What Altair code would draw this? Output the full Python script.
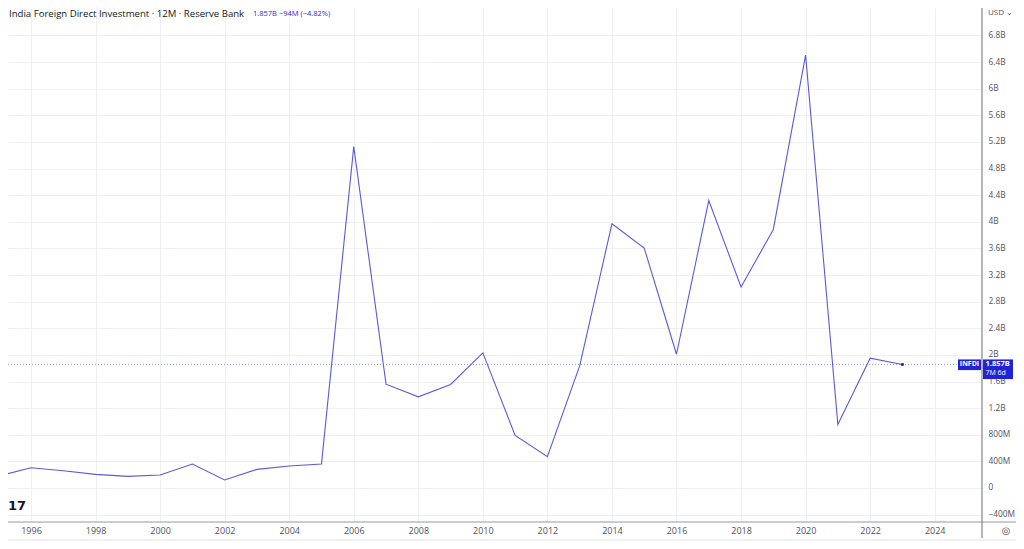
import altair as alt
import pandas as pd

years = list(range(1995, 2024))
values_b = [0.18, 0.305, 0.26, 0.205, 0.175, 0.195, 0.36, 0.12, 0.28, 0.33, 0.36,
            5.13, 1.56, 1.37, 1.555, 2.03, 0.79, 0.47, 1.835, 3.97, 3.605, 2.01,
            4.32, 3.02, 3.885, 6.505, 0.955, 1.951, 1.857]
y_ticks = [-0.4, 0.0, 0.4, 0.8, 1.2, 1.6, 2.0, 2.4, 2.8, 3.2, 3.6, 4.0, 4.4, 4.8,
           5.2, 5.6, 6.0, 6.4, 6.8]
x_ticks = list(range(1996, 2025, 2))
title_text = "India Foreign Direct Investment · 12M · Reserve Bank"
change_text = "1.857B  −94M (−4.82%)"
last_label = "1.857B"
countdown = "7M 6d"
symbol = "INFDI"

df = pd.DataFrame({"year": years, "value": values_b})
last = df.iloc[[-1]]
last_val = values_b[-1]

W, H = 974, 514
FONT = "Open Sans"
LINE = "#5b5bd6"
BOX = "#2323d6"
GRID = "#eef0f6"

xs = alt.Scale(domain=[1995.287, 2025.466], nice=False, zero=False)
ys = alt.Scale(domain=[-0.511, 7.213], nice=False, zero=False)

x_axis = alt.Axis(
    values=x_ticks, format="d", grid=True, gridColor=GRID, gridWidth=1,
    ticks=False, domain=False, labelPadding=4, labelFontSize=9,
    labelColor="#50535e", labelFont=FONT, title=None, labelFlush=False,
    labelOverlap=False)
y_axis = alt.Axis(
    orient="right", values=y_ticks, grid=True, gridColor=GRID, gridWidth=1,
    ticks=False, domain=False, labelPadding=6, labelFontSize=8.3,
    labelColor="#50535e", labelFont=FONT, labelAlign="left", title=None,
    labelOverlap=False, labelFlush=False,
    labelExpr="datum.value == 0 ? '0' : (abs(datum.value) < 1 ? format(datum.value*1000, 'd') + 'M' : format(datum.value, '.1~f') + 'B')")

x_enc = alt.X("year:Q", scale=xs, axis=x_axis)
y_enc = alt.Y("value:Q", scale=ys, axis=y_axis)

line = alt.Chart(df).mark_line(color=LINE, strokeWidth=1.1, clip=True).encode(x=x_enc, y=y_enc)

price_line = alt.Chart(last).mark_rule(color="#7a7ad8", strokeDash=[1, 2], strokeWidth=1, opacity=0.8).encode(
    y=y_enc, x=alt.value(0), x2=alt.value(W))

end_pt = alt.Chart(last).mark_point(filled=True, color="#2a2a9a", size=10, opacity=1).encode(
    x=x_enc, y=y_enc)

# axis lines
x_axis_line = alt.Chart(last).mark_rule(color="#b8bbc4", strokeWidth=1.5).encode(
    x=alt.value(0), x2=alt.value(1008), y=alt.value(H))
bottom_line = alt.Chart(last).mark_rule(color="#e4e6ec", strokeWidth=1).encode(
    x=alt.value(0), x2=alt.value(1008), y=alt.value(532))
y_axis_line = alt.Chart(last).mark_rule(color="#6a6d78", strokeWidth=1).encode(
    x=alt.value(W), y=alt.value(0), y2=alt.value(530))

# label boxes at the last value
sym_box = alt.Chart(last).mark_rect(color=BOX).encode(
    x=alt.value(950), x2=alt.value(973),
    y=alt.datum(last_val + 0.075, scale=ys, axis=y_axis), y2=alt.datum(last_val - 0.085))
val_box = alt.Chart(last).mark_rect(color=BOX).encode(
    x=alt.value(975), x2=alt.value(1005),
    y=alt.datum(last_val + 0.075, scale=ys, axis=y_axis), y2=alt.datum(last_val - 0.22))
sym_txt = alt.Chart(last).mark_text(color="white", fontSize=7, font=FONT, fontWeight="bold", align="center", baseline="middle").encode(
    x=alt.value(961.5), y=y_enc, text=alt.value(symbol))
val_txt = alt.Chart(last).mark_text(color="white", fontSize=7.5, font=FONT, fontWeight="bold", align="left", baseline="middle").encode(
    x=alt.value(977.5), y=y_enc, text=alt.value(last_label))
cd_txt = alt.Chart(last).mark_text(color="white", fontSize=7, font=FONT, align="left", baseline="middle", dy=9).encode(
    x=alt.value(977.5), y=y_enc, text=alt.value(countdown))

# header texts
title = alt.Chart(last).mark_text(color="#131722", fontSize=9.6, font=FONT, align="left", baseline="middle").encode(
    x=alt.value(1), y=alt.value(6), text=alt.value(title_text))
change = alt.Chart(last).mark_text(color="#2a2ad0", fontSize=7.5, font=FONT, align="left", baseline="middle").encode(
    x=alt.value(245), y=alt.value(6), text=alt.value(change_text))
usd = alt.Chart(last).mark_text(color="#50535e", fontSize=8, font=FONT, align="left", baseline="middle").encode(
    x=alt.value(980), y=alt.value(5), text=alt.value("USD ⌄"))
logo = alt.Chart(last).mark_text(color="#131722", fontSize=13, font="DejaVu Sans", fontWeight="bold", align="left", baseline="middle").encode(
    x=alt.value(0), y=alt.value(498), text=alt.value("17"))
gear = alt.Chart(last).mark_text(color="#50535e", fontSize=10, font="DejaVu Sans", align="center", baseline="middle").encode(
    x=alt.value(998), y=alt.value(523), text=alt.value("◎"))

chart = alt.layer(
    line, price_line, end_pt, x_axis_line, bottom_line, y_axis_line,
    sym_box, val_box, sym_txt, val_txt, cd_txt, title, change, usd, logo, gear
).properties(
    width=W, height=H,
    autosize=alt.AutoSizeParams(type="none"),
    padding={"left": 0, "top": 0, "right": 34, "bottom": 19},
    background="white"
).configure_view(stroke=None).configure_axis(labelOverlap=False)

chart.save("out.html", embed_options={"renderer": "svg", "actions": False})
